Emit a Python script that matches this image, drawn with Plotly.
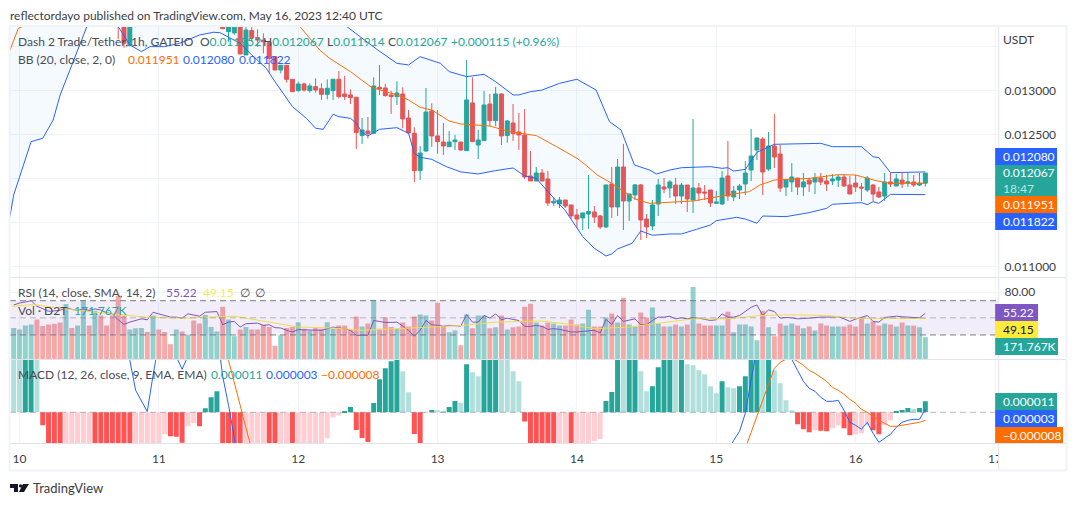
import pandas as pd
import plotly.graph_objects as go

# prices in micro USDT, one candle per hour, hour 0 = 10 May 00:00
# candles above the visible top of the pane are rough guesses
open_px = [
    14300,14340,14380,14420,14470,14430,14400,14350,14320,14290,
    14340,14300,14340,14400,14350,14390,14340,14280,14100,13900,
    13515,13760,14000,14100,14020,14150,14080,14000,13970,14050,
    13990,14060,14000,13950,14020,14110,13800,13674,13660,13800,
    13409,13686,13606,13579,13549,13390,13238,13292,13132,13004,
    13079,13004,13049,13026,12962,13004,13133,12966,12955,12928,
    12493,12545,12519,13042,13034,12955,12936,12966,12693,12519,
    12095,12318,12773,12489,12420,12367,12424,12420,12322,12864,
    12386,12436,12852,12663,12966,12493,12636,12534,12500,12034,
    11977,12068,12000,11727,11716,11761,11705,11591,11557,11602,
    11625,11580,11455,11943,11682,12136,11750,11818,11932,11545,
    11466,11716,11909,11897,11931,11806,11931,11761,11897,11852,
    11875,11723,11716,12034,11795,11875,11943,12102,12329,12454,
    12113,12375,12284,11909,11966,12011,11909,11988,11966,12011,
    11977,11977,11988,12022,11931,11954,11909,11875,11931,11852,
    11806,11966,11920,11988,11954,11966,11931,11952,
]
high_px = [
    14380,14420,14460,14510,14500,14460,14430,14390,14350,14380,
    14370,14380,14440,14430,14420,14420,14370,14300,14150,13980,
    13950,14100,14150,14160,14200,14180,14120,14050,14080,14100,
    14090,14110,14040,14060,14150,14220,13850,13850,13850,13900,
    13750,13731,13700,13655,13549,13390,13292,13292,13132,13106,
    13095,13087,13144,13087,13132,13133,13227,13171,13019,12928,
    12693,12705,13155,13296,13080,13004,13110,13042,12784,12587,
    12375,13034,12860,12784,12636,12545,12500,12420,13352,13155,
    12557,13000,12966,13045,12974,12670,12852,12750,12795,12318,
    12136,12114,12091,11795,11795,11761,11705,11659,11614,12045,
    11693,11591,11932,12136,12227,12398,11830,11943,11943,11602,
    11761,12000,12011,11988,12011,11954,11931,12681,11954,11931,
    11875,11863,12091,12431,11920,11943,12204,12568,12466,12477,
    12534,12738,12386,11988,12181,12011,12068,12011,12068,12068,
    12045,12056,12045,12056,12034,12045,11954,12034,11943,11909,
    12068,12068,12056,12068,12068,12045,12068,12067,
]
low_px = [
    14270,14310,14350,14390,14410,14380,14330,14300,14260,14260,
    14280,14270,14310,14330,14320,14320,14260,14080,13587,13492,
    13515,13723,13980,14000,14000,14050,13980,13950,13950,13960,
    13970,13980,13920,13930,14000,14090,13708,13560,13640,13420,
    13409,13560,13504,13428,13201,13238,13201,13095,12992,12992,
    12992,12981,12981,12898,12905,12898,12917,12898,12852,12341,
    12398,12458,12519,12955,12936,12739,12841,12576,12519,11966,
    11989,12307,12364,12288,12273,12367,12330,12318,12322,12424,
    12227,12436,12602,12602,12386,12413,12432,12330,12000,11977,
    11977,11977,11693,11693,11670,11670,11545,11443,11420,11432,
    11500,11432,11443,11557,11580,11420,11523,11761,11307,11330,
    11420,11580,11837,11784,11716,11716,11625,11613,11750,11761,
    11681,11716,11704,11750,11750,11772,11818,11977,12215,11818,
    12091,12125,11852,11806,11852,11818,11806,11852,11829,11931,
    11863,11931,11909,11909,11829,11852,11750,11852,11750,11784,
    11750,11909,11920,11897,11909,11909,11920,11914,
]
close_px = [
    14340,14380,14420,14470,14430,14400,14350,14320,14290,14340,
    14300,14340,14400,14350,14390,14340,14280,14100,13800,13542,
    13850,14000,14100,14020,14150,14080,14000,13970,14050,13990,
    14060,14000,13950,14020,14110,14180,13708,13790,13800,13420,
    13693,13606,13579,13560,13371,13238,13292,13132,12992,13079,
    13011,13057,13011,12962,13030,13133,12936,12936,12924,12527,
    12557,12515,13057,13023,12947,12936,12977,12682,12523,12095,
    12295,12761,12489,12424,12375,12420,12443,12330,12898,12424,
    12443,12841,12663,12966,12489,12659,12515,12500,12023,11977,
    12068,11977,11727,11746,11761,11693,11580,11545,11614,11629,
    11568,11455,11932,11682,12136,11750,11830,11932,11534,11455,
    11705,11932,11886,11966,11806,11931,11772,11897,11840,11840,
    11727,11738,12011,11806,11863,11920,12068,12261,12466,12079,
    12375,12250,11897,11988,12022,11909,11966,11943,12011,11966,
    11943,12000,12022,11920,11829,11909,11897,12011,11829,11795,
    11966,11943,12000,11943,11966,11931,11954,12067,
]
# volume in thousands
volume_k = [
    244,234,265,273,312,260,273,278,289,434,
    244,265,465,265,382,343,265,343,499,343,
    234,242,244,213,343,234,213,117,234,218,
    192,304,281,348,252,218,413,312,179,234,
    252,234,234,270,252,104,187,244,252,291,
    239,226,244,239,291,239,265,265,231,335,
    257,281,468,239,328,252,239,289,257,335,
    351,343,304,445,265,211,226,109,351,242,
    343,343,242,250,343,234,250,257,413,437,
    289,265,289,281,265,265,312,273,281,390,
    257,257,328,359,289,484,273,257,367,328,
    406,281,257,257,273,257,273,569,281,265,
    265,265,265,374,211,273,273,257,148,382,
    250,179,281,265,281,265,242,257,226,281,
    265,257,257,257,273,257,320,281,296,265,
    281,273,257,289,265,265,250,171.767,
]
rsi = [
    65,67.3,68.5,70,63.5,60.4,57.7,58.1,58.8,61.5,
    59.6,58.5,60.4,58.5,60.4,59.2,55.8,54.6,47.7,42.3,
    45,47.3,48.8,47.7,56.5,54.6,52.7,50.8,50.8,49.6,
    54.6,53.5,51.9,56.5,57.3,57.3,41.9,45,45.8,39.2,
    43.1,43.8,43.8,41.2,41.9,38.5,38.1,35.4,33.5,36.2,
    36.2,35.4,35.4,35.4,37.3,39.2,38.1,37.3,35.4,29.6,
    29.6,29.6,46.9,45.8,44.6,44.6,45,40.4,35.4,28.5,
    35.4,46.9,41.9,41.2,40,41.2,41.2,40.4,53.8,45,
    45,52.7,49.6,54.6,47.7,49.6,48.1,46.9,40,40,
    41.2,40,36.5,37.3,36.5,35.4,33.5,33.5,34.2,34.2,
    35.4,32.3,48.1,42.3,52.7,45.8,46.9,48.8,41.9,41.9,
    46.9,50.8,50.8,51.9,48.8,50,48.8,50,49.6,48.1,
    46.9,47.7,54.6,50.8,50.8,52.7,57.7,62.3,65,52.7,
    59.2,57.3,49.6,50.4,50,48.8,49.2,50,50.8,50.8,
    50.8,50.8,51.2,48.8,45.8,48.5,50.8,52.7,45.8,45,
    50.4,50.8,51.9,51.2,50.8,50,50,55.22,
]
# MACD series in micro USDT; the pane clips everything outside about -31..52
macd_hist = [
    80,70,85,90,60,-13,-50,-60,-70,-65,
    -60,-55,-50,-45,-50,-55,-60,-65,-70,-75,
    -80,-70,-60,-50,-42,-35,-22,-24,-24.5,-30.5,
    -14,-11,-14,4,15,21,-35,-40,-45,-50,
    -45,-40,-36,-33,-36,-40,-36,-33,-36,-35,
    -34,-33,-32.5,-32,-26,-5.3,-3.3,1.3,5.3,-17.7,
    -25.7,-29.7,9.3,33,44,51,55,41,20,-21.7,
    -40,-0.3,2.3,2,1.3,5.3,11.3,9.3,48,40,
    36,53,60,65,62,55,41,31,-9.3,-32,
    -35,-38,-41,-44,-40,-37,-39,-36,-34,-33,
    -28.7,-26.7,11.3,20.3,55,54,58,62,41,21,
    26,45,55,60,56,58,48,47,42,38,
    26,19,31,25,24,26,36,55,60,57,
    62,42,29,12,2,-12,-17,-20,-18,-18.5,
    -19,-16,-13,-16,-23,-22,-21,-13,-18,-22,
    -13,-8,0.5,2.3,4.3,3.3,4.3,11,
]

rsi_ma_hours = [-1.3,2.4,8,14,22,28,37,42.5,48,54,59,65,70.6,76.4,82,88,90,94,99,105,112,116,122,127.5,133,139,143.5,150,156]
rsi_ma = [63.5,65.4,60.4,55.8,50.8,49.6,51.9,45.8,39.2,38.1,35.4,37.3,39.2,41.2,45,46.2,46.2,43.1,37.3,39.2,45,48.8,48.8,52.7,53.5,52.7,49.6,49.6,49.15]

macd_hours = [-1,10,18,19,20,21,22,23,24,26,27,28,29,30,31,32,34,35,36,37,38,60,100,121,122,123,124,125,126,127,128,133,
              134,135,136,137,138,139,140,141,142,143,144,145,146,147,148,149,150,151,152,153,154,155,156]
macd_line = [150,180,120,52,22,11,0.7,37,70,75,56,43,56,60,53,60,80,36,7,-26,-60,-120,-90,-50,-38,-28,-19,-1,30,65,90,53,
             42,31,24,21,15,11,11,12,2,-10,-13,-17,-10,-21,-30,-26,-22,-15,-10,-8,-7,-7,3]
signal_hours = [-1,20,36,37,38,39,40,60,100,124,125,126,127,128,129,130,131,132,133,134,135,136,137,138,139,140,141,142,143,144,145,146,147,148,149,150,151,152,153,154,155,156]
signal_line = [160,120,52,30,8,-15,-38,-90,-80,-50,-36,-20,-4,12,27,44,50,53,54,51,47,42,39,35,31,25,22,18,13,9,3,0,-4,-8,-11,-14,-14,-13,-12,-11,-10,-8]

bb_upper_hours = [-2,20,40,55,60,61.7,65,67,69,72.5,74,77,80,82,85,86,88,90,93,96,99.3,101.6,103.6,105.9,108.5,109.7,112,114,119,121,122,123,125,127,130,138,140,145,147,148,150,155,156]
bb_upper = [14300,14400,14300,13800,13550,13466,13314,13296,13390,13314,13220,13163,13189,13106,12955,12955,12992,13011,13087,13133,13011,12652,12557,12159,12102,12057,12102,12128,12140,12121,12128,12090,12109,12303,12394,12405,12367,12367,12253,12242,12072,12072,12080]
bb_lower_hours = [-2,-1.6,-1,0,1,2,4,5.8,7,8.7,10.4,11.6,13,15,17,19,21,22.5,25,27.6,31,33.4,34.5,38,40,42.5,44,47,49.4,51,52.3,54,55,57,58,59,60,62,65,67,68,69,71,73.5,76,79,82,85,87,89,91,94,97,99,101,102,103,105.5,107,109,112,114,116.6,119,120,123.5,125,127,128,132,136,139,140,145,146,147,148,150,156]
bb_lower = [11500,11591,11818,12011,12230,12424,12462,12670,12954,13238,13542,13731,13900,13850,13731,13523,13447,13504,13504,13542,13636,13667,13663,13542,13409,13257,13106,12822,12689,12576,12564,12735,12708,12689,12633,12527,12489,12564,12583,12519,12292,12246,12223,12140,12080,12057,12095,12125,12034,12007,11856,11640,11345,11212,11125,11148,11205,11269,11409,11360,11375,11375,11428,11477,11526,11564,11545,11496,11579,11572,11617,11666,11712,11731,11708,11742,11723,11825,11822]
bb_basis_hours = [-2,-1.6,-0.2,10,30,48.3,51.7,53.4,57,60.6,65,67,69,71,74,76,79,81,84.4,89,92.5,96,97.5,99.5,101.5,104,106,108.5,112,116,122,125.7,127.5,130,136,141,144,147.5,150,156]
bb_basis = [13400,13466,13712,14000,14100,13731,13466,13371,13220,13042,12955,12898,12814,12784,12659,12625,12614,12602,12538,12493,12367,12235,12159,12045,11970,11856,11773,11723,11735,11750,11818,11856,11931,11988,12007,12049,12045,11981,11950,11951]

UP = "#26a69a"
DOWN = "#ef5350"
BLUE = "#2962ff"
ORANGE = "#ff6d00"
PURPLE = "#7e57c2"
YELLOW = "#ffeb3b"
GRID = "#f0f3fa"
EDGE = "#e0e3eb"
TEXT = "#4a4c55"
FONT = "Lato"
W, H = 1079, 506


def fx(px):
    # the page comes out a touch narrower than the paper, so stretch a little
    return px / (W - 2)


def fy(px):
    return 1 - px / H


def when(hours):
    return pd.Timestamp("2023-05-10") + pd.to_timedelta(list(hours), unit="h")


def usdt(values):
    return [v / 1e6 for v in values]


candle_hours = list(range(-1, 157))
t = when(candle_hours)

vol_colors = ["rgba(38,166,154,0.5)" if c >= o else "rgba(239,83,80,0.5)" for o, c in zip(open_px, close_px)]

hist_colors = []
prev = None
for v in macd_hist:
    rising = prev is not None and v > prev
    if v >= 0:
        hist_colors.append("#26a69a" if rising else "#b2dfdb")
    else:
        hist_colors.append("#ffcdd2" if rising else "#ff5252")
    prev = v

fig = go.Figure()

# bollinger fill goes between the two outer bands
fig.add_trace(go.Scatter(x=when(bb_upper_hours), y=usdt(bb_upper), mode="lines", line=dict(color=BLUE, width=1), xaxis="x", yaxis="y"))
fig.add_trace(go.Scatter(x=when(bb_lower_hours), y=usdt(bb_lower), mode="lines", line=dict(color=BLUE, width=1),
                         fill="tonexty", fillcolor="rgba(33,150,243,0.05)", xaxis="x", yaxis="y"))
fig.add_trace(go.Candlestick(x=t, open=usdt(open_px), high=usdt(high_px), low=usdt(low_px), close=usdt(close_px),
                             increasing=dict(line=dict(color=UP, width=1), fillcolor=UP),
                             decreasing=dict(line=dict(color=DOWN, width=1), fillcolor=DOWN),
                             whiskerwidth=0, xaxis="x", yaxis="y"))
fig.add_trace(go.Scatter(x=when(bb_basis_hours), y=usdt(bb_basis), mode="lines", line=dict(color=ORANGE, width=1), xaxis="x", yaxis="y"))

fig.add_trace(go.Bar(x=t, y=volume_k, marker=dict(color=vol_colors, line=dict(width=0)), xaxis="x2", yaxis="y2"))
fig.add_trace(go.Scatter(x=t, y=rsi, mode="lines", line=dict(color=PURPLE, width=1), xaxis="x2", yaxis="y3"))
fig.add_trace(go.Scatter(x=when(rsi_ma_hours), y=rsi_ma, mode="lines", line=dict(color=YELLOW, width=1), xaxis="x2", yaxis="y3"))

fig.add_trace(go.Bar(x=t, y=macd_hist, marker=dict(color=hist_colors, line=dict(width=0)), xaxis="x3", yaxis="y4"))
fig.add_trace(go.Scatter(x=when(macd_hours), y=macd_line, mode="lines", line=dict(color=BLUE, width=1), xaxis="x3", yaxis="y4"))
fig.add_trace(go.Scatter(x=when(signal_hours), y=signal_line, mode="lines", line=dict(color=ORANGE, width=1), xaxis="x3", yaxis="y4"))

x_range = when([-1.64, 168.54])
common_x = dict(type="date", range=list(x_range), dtick=86400000, tick0="2023-05-10", showgrid=True, gridcolor=GRID,
                gridwidth=1, zeroline=False, showline=False, rangeslider=dict(visible=False), fixedrange=True)
x_domain = [fx(10), fx(1000)]

shapes = [
    # rsi band and levels
    dict(type="rect", xref="x2 domain", yref="y3", x0=0, x1=1, y0=30, y1=70, fillcolor="rgba(126,87,194,0.1)", line=dict(width=0), layer="above"),
    dict(type="line", xref="x2 domain", yref="y3", x0=0, x1=1, y0=70, y1=70, line=dict(color="#787b86", width=1, dash="6px,4px"), layer="above"),
    dict(type="line", xref="x2 domain", yref="y3", x0=0, x1=1, y0=50, y1=50, line=dict(color="rgba(120,123,134,0.5)", width=1, dash="6px,4px"), layer="above"),
    dict(type="line", xref="x2 domain", yref="y3", x0=0, x1=1, y0=30, y1=30, line=dict(color="#787b86", width=1, dash="6px,4px"), layer="above"),
    dict(type="line", xref="x3 domain", yref="y4", x0=0, x1=1, y0=0, y1=0, line=dict(color="rgba(120,123,134,0.5)", width=1, dash="6px,4px"), layer="above"),
    # hides the part of the last day label that runs under the price scale
    dict(type="rect", xref="paper", yref="paper", x0=fx(1000), x1=fx(1067), y0=fy(469), y1=fy(444), fillcolor="white", line=dict(width=0), layer="above"),
]


def hline(y, x0=10, x1=1068, color=EDGE, width=1):
    shapes.append(dict(type="line", xref="paper", yref="paper", x0=fx(x0), x1=fx(x1), y0=fy(y), y1=fy(y), line=dict(color=color, width=width), layer="above"))


def vline(x, y0=26, y1=470, color=EDGE, width=1):
    shapes.append(dict(type="line", xref="paper", yref="paper", x0=fx(x), x1=fx(x), y0=fy(y0), y1=fy(y1), line=dict(color=color, width=width), layer="above"))


hline(277.5)
hline(359.5)
hline(443.5)
vline(1000.5)
# outer frame
hline(26, x0=9, x1=1069, color=GRID, width=2)
hline(470.5, x0=9, x1=1069, color=GRID, width=2)
vline(9.5, color=GRID, width=2)
vline(1068.5, color=GRID, width=2)


def badge(y0, y1, color, x1):
    shapes.append(dict(type="rect", xref="paper", yref="paper", x0=fx(997), x1=fx(x1), y0=fy(y1), y1=fy(y0), fillcolor=color, line=dict(width=0), layer="above"))


annotations = []


def label(x, y, text, color=TEXT, size=12, anchor="left"):
    annotations.append(dict(xref="paper", yref="paper", x=fx(x), y=fy(y), text=text, showarrow=False, xanchor=anchor, yanchor="middle", align="left",
                            font=dict(family=FONT, size=size, color=color), borderpad=0, borderwidth=0))


label(10, 15, "reflectordayo published on TradingView.com, May 16, 2023 12:40 UTC", color="#3c3d44", size=12)
label(33, 488, "TradingView", color="#3c3d44", size=13)

# legends
label(18, 42, "Dash 2 Trade/Tether, 1h, GATEIO")
for x, letter, val in [(200, "O", "0.011952"), (263, "H", "0.012067"), (328, "L", "0.011914"), (389, "C", "0.012067")]:
    label(x, 42, f'{letter}<span style="color:{UP}">{val}</span>')
label(452, 42, "+0.000115 (+0.96%)", color=UP)
label(18, 59, "BB (20, close, 2, 0)")
label(128, 59, "0.011951", color=ORANGE)
label(183, 59, "0.012080", color=BLUE)
label(239, 59, "0.011822", color=BLUE)
label(18, 292, "RSI (14, close, SMA, 14, 2)")
label(166, 292, "55.22", color=PURPLE)
label(203, 292, "49.15", color=YELLOW)
label(240, 292, "∅")
label(255, 292, "∅")
label(18, 310, "Vol · D2T")
label(74, 310, "171.767K", color=UP)
label(18, 374, "MACD (12, 26, close, 9, EMA, EMA)")
label(211, 374, "0.000011", color=UP)
label(266, 374, "0.000003", color=BLUE)
label(322, 374, "−0.000008", color=ORANGE)

# price scale badges
badge(148, 165, BLUE, 1059)
badge(165, 196, UP, 1059)
badge(196, 213, ORANGE, 1059)
badge(213, 230, BLUE, 1059)
badge(304, 321, PURPLE, 1040)
badge(321, 338, YELLOW, 1040)
badge(338, 355, UP, 1060)
badge(393, 410, UP, 1059)
badge(410, 427, BLUE, 1059)
badge(427, 443, ORANGE, 1065)
label(1005, 40, "USDT", color="#3c3d44")
label(1005, 156.5, "0.012080", color="white")
label(1005, 180.5, '0.012067<br><span style="color:rgba(255,255,255,0.7)">18:47</span>', color="white")
label(1005, 204.5, "0.011951", color="white")
label(1005, 221.5, "0.011822", color="white")
label(1005, 312.5, "55.22", color="white")
label(1005, 329.5, "49.15", color="#131722")
label(1005, 346.5, "171.767K", color="white")
label(1005, 401.5, "0.000011", color="white")
label(1005, 418.5, "0.000003", color="white")
label(1005, 435, "−0.000008", color="white")

# tradingview mark
shapes.append(dict(type="path", xref="paper", yref="paper", fillcolor="#131722", line=dict(width=0), layer="above",
                   path=f"M {fx(10)} {fy(484)} L {fx(18)} {fy(484)} L {fx(18)} {fy(492)} L {fx(14)} {fy(492)} L {fx(14)} {fy(488)} L {fx(10)} {fy(488)} Z "
                        f"M {fx(23)} {fy(484)} L {fx(29)} {fy(484)} L {fx(24)} {fy(492)} L {fx(19)} {fy(492)} Z"))
shapes.append(dict(type="circle", xref="paper", yref="paper", fillcolor="#131722", line=dict(width=0), layer="above",
                   x0=fx(19), x1=fx(22.4), y0=fy(487.6), y1=fy(484.2)))

tick_font = dict(family=FONT, size=12, color="#3c3d44")

fig.update_layout(
    width=W,
    height=H,
    margin=dict(l=0, r=0, t=0, b=0),
    paper_bgcolor="white",
    plot_bgcolor="white",
    showlegend=False,
    hovermode=False,
    bargap=0.14,
    boxgap=0.02,
    shapes=shapes,
    annotations=annotations,
    xaxis=dict(domain=x_domain, anchor="y", showticklabels=False, ticks="", **common_x),
    xaxis2=dict(domain=x_domain, anchor="y2", showticklabels=False, ticks="", **common_x),
    xaxis3=dict(domain=x_domain, anchor="y4", showticklabels=True, tickformat="%-d", tickfont=tick_font, ticks="outside",
                ticklen=5, tickcolor="rgba(0,0,0,0)", **common_x),
    yaxis=dict(domain=[fy(277), fy(27)], anchor="x", side="right", range=[10886e-6, 13727e-6], tickmode="array",
               tickvals=[0.011, 0.0115, 0.012, 0.0125, 0.013, 0.0135], ticktext=["0.011000", "", "", "0.012500", "0.013000", ""],
               tickfont=tick_font, ticks="outside", ticklen=3, tickcolor="rgba(0,0,0,0)", gridcolor=GRID, zeroline=False, showline=False, fixedrange=True),
    yaxis2=dict(domain=[fy(359), fy(278)], anchor="x2", side="right", range=[0, 640], showticklabels=False, ticks="",
                showgrid=False, zeroline=False, showline=False, fixedrange=True),
    yaxis3=dict(domain=[fy(359), fy(278)], anchor="x2", overlaying="y2", side="right", range=[1.9, 96.5], tickmode="array", tickvals=[80],
                ticktext=["80.00"], tickfont=tick_font, ticks="outside", ticklen=3, tickcolor="rgba(0,0,0,0)", gridcolor=GRID, zeroline=False, showline=False, fixedrange=True),
    yaxis4=dict(domain=[fy(443), fy(360)], anchor="x3", side="right", range=[-30.7, 52.3], showticklabels=False, ticks="",
                showgrid=False, zeroline=False, showline=False, fixedrange=True),
)

fig.write_html("out.html", config={"displayModeBar": False}, post_script="document.body.style.margin='0';document.body.style.overflow='hidden';")
